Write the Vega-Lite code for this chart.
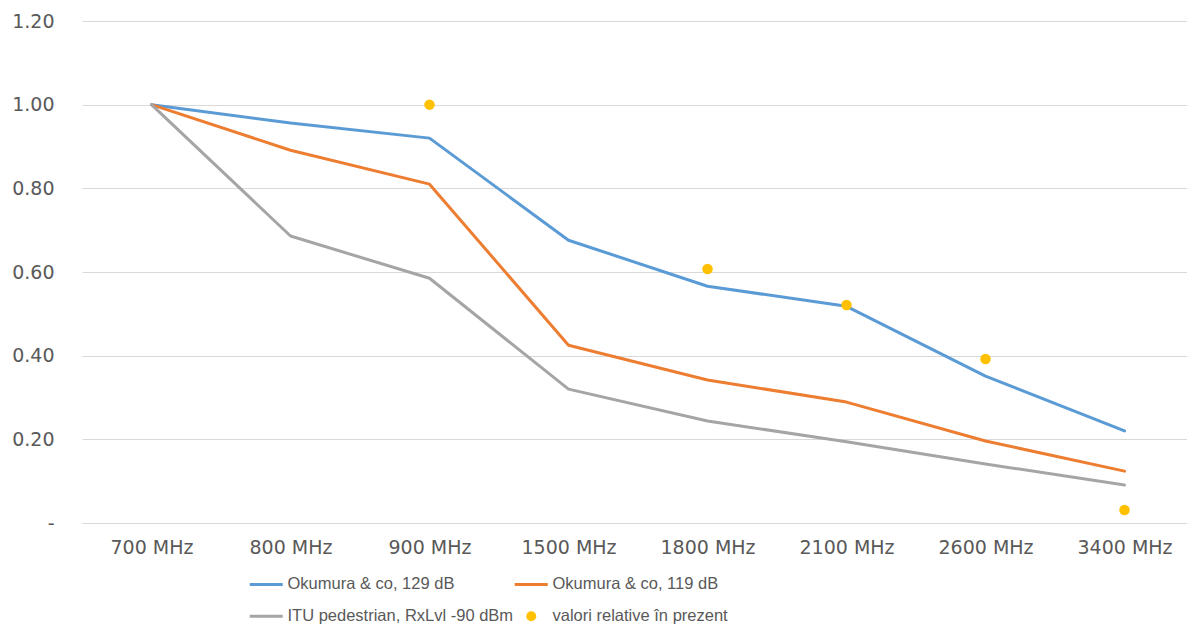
{
  "$schema": "https://vega.github.io/schema/vega-lite/v6.json",
  "width": 1105,
  "height": 502,
  "autosize": "none",
  "padding": {"left": 82, "top": 21, "right": 0, "bottom": 103},
  "background": "white",
  "config": {
    "font": "DejaVu Sans",
    "view": {"stroke": null},
    "axis": {"labelFont": "DejaVu Sans", "labelFontSize": 19, "labelColor": "#595959"}
  },
  "data": {
    "values": [
      {"freq": "700 MHz", "series": "Okumura & co, 129 dB", "value": 1.0},
      {"freq": "800 MHz", "series": "Okumura & co, 129 dB", "value": 0.956},
      {"freq": "900 MHz", "series": "Okumura & co, 129 dB", "value": 0.92},
      {"freq": "1500 MHz", "series": "Okumura & co, 129 dB", "value": 0.676},
      {"freq": "1800 MHz", "series": "Okumura & co, 129 dB", "value": 0.566},
      {"freq": "2100 MHz", "series": "Okumura & co, 129 dB", "value": 0.518},
      {"freq": "2600 MHz", "series": "Okumura & co, 129 dB", "value": 0.351},
      {"freq": "3400 MHz", "series": "Okumura & co, 129 dB", "value": 0.22},
      {"freq": "700 MHz", "series": "Okumura & co, 119 dB", "value": 1.0},
      {"freq": "800 MHz", "series": "Okumura & co, 119 dB", "value": 0.891},
      {"freq": "900 MHz", "series": "Okumura & co, 119 dB", "value": 0.81},
      {"freq": "1500 MHz", "series": "Okumura & co, 119 dB", "value": 0.425},
      {"freq": "1800 MHz", "series": "Okumura & co, 119 dB", "value": 0.342},
      {"freq": "2100 MHz", "series": "Okumura & co, 119 dB", "value": 0.289},
      {"freq": "2600 MHz", "series": "Okumura & co, 119 dB", "value": 0.196},
      {"freq": "3400 MHz", "series": "Okumura & co, 119 dB", "value": 0.124},
      {"freq": "700 MHz", "series": "ITU pedestrian, RxLvl -90 dBm", "value": 1.0},
      {"freq": "800 MHz", "series": "ITU pedestrian, RxLvl -90 dBm", "value": 0.686},
      {"freq": "900 MHz", "series": "ITU pedestrian, RxLvl -90 dBm", "value": 0.585},
      {"freq": "1500 MHz", "series": "ITU pedestrian, RxLvl -90 dBm", "value": 0.32},
      {"freq": "1800 MHz", "series": "ITU pedestrian, RxLvl -90 dBm", "value": 0.244},
      {"freq": "2100 MHz", "series": "ITU pedestrian, RxLvl -90 dBm", "value": 0.194},
      {"freq": "2600 MHz", "series": "ITU pedestrian, RxLvl -90 dBm", "value": 0.141},
      {"freq": "3400 MHz", "series": "ITU pedestrian, RxLvl -90 dBm", "value": 0.091},
      {"freq": "900 MHz", "series": "valori relative în prezent", "value": 1.0},
      {"freq": "1800 MHz", "series": "valori relative în prezent", "value": 0.607},
      {"freq": "2100 MHz", "series": "valori relative în prezent", "value": 0.521},
      {"freq": "2600 MHz", "series": "valori relative în prezent", "value": 0.392},
      {"freq": "3400 MHz", "series": "valori relative în prezent", "value": 0.031}
    ]
  },
  "encoding": {
    "x": {
      "field": "freq",
      "type": "nominal",
      "sort": ["700 MHz", "800 MHz", "900 MHz", "1500 MHz", "1800 MHz", "2100 MHz", "2600 MHz", "3400 MHz"],
      "scale": {"type": "point", "range": [0, 1112], "padding": 0.5},
      "axis": {"title": null, "labelAngle": 0, "ticks": false, "domain": false, "grid": false, "labelPadding": 15}
    },
    "y": {
      "field": "value",
      "type": "quantitative",
      "scale": {"domain": [0, 1.2], "nice": false, "zero": true},
      "axis": {
        "title": null,
        "values": [0, 0.2, 0.4, 0.6, 0.8, 1.0, 1.2],
        "labelExpr": "datum.value === 0 ? '-\u00a0\u00a0\u00a0' : format(datum.value, '.2f')",
        "ticks": false,
        "domain": false,
        "grid": true,
        "gridColor": "#d9d9d9",
        "gridWidth": 1,
        "labelPadding": 28
      }
    },
    "color": {
      "field": "series",
      "type": "nominal",
      "scale": {
        "domain": ["Okumura & co, 129 dB", "Okumura & co, 119 dB", "ITU pedestrian, RxLvl -90 dBm", "valori relative în prezent"],
        "range": ["#5b9bd5", "#ed7d31", "#a5a5a5", "#ffc000"]
      },
      "legend": {
        "title": null,
        "orient": "none",
        "legendX": 176,
        "legendY": 555,
        "direction": "horizontal",
        "columns": 2,
        "columnPadding": -6,
        "rowPadding": 15,
        "symbolSize": 1089,
        "symbolType": "M-1,0H1",
        "symbolStrokeWidth": 3,
        "labelFont": "Liberation Sans",
        "labelFontSize": 16.5,
        "labelColor": "#595959",
        "labelOffset": 13,
        "labelLimit": 400,
        "encode": {
          "symbols": {
            "update": {
              "shape": {"signal": "datum.value === 'valori relative în prezent' ? 'circle' : 'M-1,0H1'"},
              "size": {"signal": "datum.value === 'valori relative în prezent' ? 100 : 1089"},
              "strokeWidth": {"signal": "datum.value === 'valori relative în prezent' ? 0 : 3"},
              "fill": {"signal": "datum.value === 'valori relative în prezent' ? '#ffc000' : 'transparent'"},
              "stroke": {"signal": "datum.value === 'Okumura & co, 129 dB' ? '#5b9bd5' : datum.value === 'Okumura & co, 119 dB' ? '#ed7d31' : datum.value === 'ITU pedestrian, RxLvl -90 dBm' ? '#a5a5a5' : '#ffc000'"},
              "opacity": {"value": 1}
            }
          }
        }
      }
    }
  },
  "layer": [
    {
      "transform": [{"filter": "datum.series !== 'valori relative în prezent'"}],
      "mark": {"type": "line", "strokeWidth": 3, "interpolate": "linear", "strokeCap": "round", "strokeJoin": "round"}
    },
    {
      "transform": [{"filter": "datum.series === 'valori relative în prezent'"}],
      "mark": {"type": "point", "filled": true, "size": 110, "opacity": 1}
    }
  ]
}
